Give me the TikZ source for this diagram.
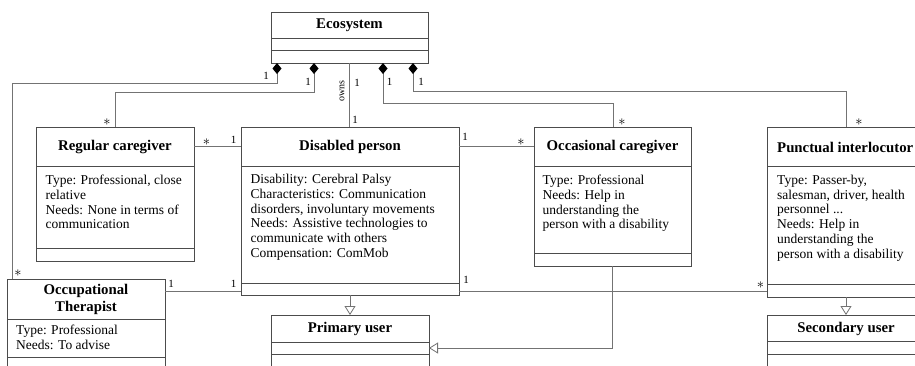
\documentclass[tikz,border=0pt]{standalone}
\usepackage{fontspec}
\setmainfont{Liberation Serif}
\usetikzlibrary{arrows.meta}
\definecolor{boxc}{gray}{0.3}
\definecolor{linec}{gray}{0.45}
\newcommand{\sepline}[2]{\draw[sepl] ([yshift=-#2pt]#1.north west) -- ([yshift=-#2pt]#1.north east);}
\begin{document}
\begin{tikzpicture}[x=1pt,y=-1pt,
  cls/.style={draw=boxc, line width=0.8pt, anchor=north west, inner sep=0pt, outer sep=0pt, fill=white},
  sepl/.style={draw=boxc, line width=0.8pt},
  ttl/.style={font=\fontsize{14.8}{17.6}\selectfont\bfseries, inner sep=0pt, align=center},
  body/.style={font=\fontsize{13.5}{14.7}\selectfont, inner sep=0pt, anchor=north west, align=left},
  mult/.style={font=\fontsize{11}{12}\selectfont, inner sep=0pt},
  star/.style={font=\fontsize{14}{15}\selectfont, inner sep=0pt},
  conn/.style={draw=linec, line width=0.8pt},
  comp/.style={conn, {Diamond[length=11pt,width=9pt,color=black]}-},
  gen/.style={conn, -{Triangle[open,length=9pt,width=11pt]}}]
\clip (0,0) rectangle (915,365);
\fill[white] (0,0) rectangle (915,365);

% ---- classes ----
\node[cls, minimum width=157pt, minimum height=51pt] (eco) at (271,12) {};
\sepline{eco}{26}\sepline{eco}{38}
\node[ttl] (ecot) at (349.5,25) {Ecosystem};

\node[cls, minimum width=158pt, minimum height=134pt] (rc) at (36,127) {};
\sepline{rc}{39}\sepline{rc}{121}
\node[ttl] (rct) at (115,147) {Regular caregiver};
\node[body] (rcb) at (45.5,175) {Type: Professional, close\\relative\\Needs: None in terms of\\communication};

\node[cls, minimum width=218pt, minimum height=168pt] (dp) at (241,127) {};
\sepline{dp}{39}\sepline{dp}{156}
\node[ttl] (dpt) at (350,147) {Disabled person};
\node[body] (dpb) at (250.5,174.3) {Disability: Cerebral Palsy\\Characteristics: Communication\\disorders, involuntary movements\\Needs: Assistive technologies to\\communicate with others\\Compensation: ComMob};

\node[cls, minimum width=157pt, minimum height=139pt] (oc) at (534,127) {};
\sepline{oc}{39}\sepline{oc}{126}
\node[ttl] (oct) at (612.5,147) {Occasional caregiver};
\node[body] (ocb) at (542.5,175) {Type: Professional\\Needs: Help in\\understanding the\\person with a disability};

\node[cls, minimum width=158pt, minimum height=170pt] (pi) at (767,127) {};
\sepline{pi}{39}\sepline{pi}{157}
\node[ttl, anchor=west] (pit) at (777,147) {Punctual interlocutor};
\node[body] (pib) at (777,175) {Type: Passer-by,\\salesman, driver, health\\personnel ...\\Needs: Help in\\understanding the\\person with a disability};

\node[cls, minimum width=158pt, minimum height=130pt] (ot) at (7,279) {};
\sepline{ot}{40}\sepline{ot}{78}
\node[ttl] (ott) at (86,299.5) {Occupational\\Therapist};
\node[body] (otb) at (16,325) {Type: Professional\\Needs: To advise};

\node[cls, minimum width=158pt, minimum height=66pt] (pu) at (271,315) {};
\sepline{pu}{27}\sepline{pu}{39}
\node[ttl] (put) at (350,328.5) {Primary user};

\node[cls, minimum width=158pt, minimum height=66pt] (su) at (767,315) {};
\sepline{su}{26}\sepline{su}{39}
\node[ttl] (sut) at (846,328.5) {Secondary user};

% ---- bend points ----
\coordinate (e1) at (277,63);
\coordinate (e2) at (314,63);
\coordinate (e3) at (383,63);
\coordinate (e4) at (413,63);
\coordinate (k1) at (12,83);
\coordinate (k2) at (115,92);
\coordinate (k3) at (613,103);
\coordinate (k4) at (846,91);
\coordinate (a1) at (0,146);
\coordinate (a2) at (0,291);

% ---- compositions ----
\draw[comp] (e1) |- (k1) -- (k1 |- ot.north);
\draw[comp] (e2) |- (k2) -- (k2 |- rc.north);
\draw[comp] (e3) |- (k3) -- (k3 |- oc.north);
\draw[comp] (e4) |- (k4) -- (k4 |- pi.north);
\draw[conn] (eco.south) -- (eco.south |- dp.north);

% ---- associations ----
\draw[conn] (a1 -| rc.east) -- (a1 -| dp.west);
\draw[conn] (a1 -| dp.east) -- (a1 -| oc.west);
\draw[conn] (a2 -| ot.east) -- (a2 -| dp.west);
\draw[conn] (a2 -| dp.east) -- (a2 -| pi.west);

% ---- generalizations ----
\draw[gen] (dp.south) -- (pu.north);
\draw[gen] (oc.south) |- (pu.east);
\draw[gen] (pi.south) -- (su.north);

% ---- labels ----
\node[mult, rotate=90, font=\fontsize{10}{11}\selectfont] (owns) at (342,91) {owns};
\node[mult] (m1) at (266,76) {1};
\node[mult] (m2) at (308,82) {1};
\node[mult] (m3) at (357,83) {1};
\node[mult] (m4) at (355,120) {1};
\node[mult] (m5) at (389.5,82) {1};
\node[mult] (m6) at (421,82) {1};
\node[star] (m7) at (107,122) {$\ast$};
\node[star] (m8) at (622,122) {$\ast$};
\node[star] (m9) at (859,122) {$\ast$};
\node[star] (m10) at (18,273) {$\ast$};
\node[star] (m11) at (206.5,142.5) {$\ast$};
\node[mult] (m12) at (233.5,140) {1};
\node[mult] (m13) at (465,137) {1};
\node[star] (m14) at (521,142) {$\ast$};
\node[mult] (m15) at (171,283.5) {1};
\node[mult] (m16) at (233.5,283.5) {1};
\node[mult] (m17) at (466,280) {1};
\node[star] (m18) at (760.5,285) {$\ast$};
\end{tikzpicture}
\end{document}
